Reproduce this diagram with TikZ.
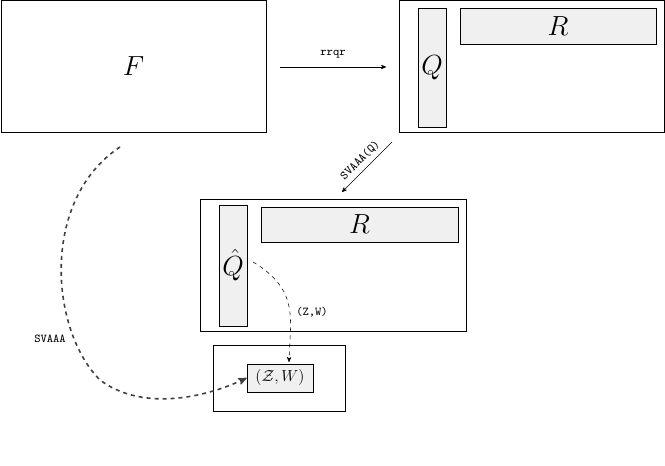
\documentclass[tikz,border=0pt]{standalone}
\usepackage{amsmath,amssymb}
\usetikzlibrary{arrows}
\tikzstyle{big_box} = [rectangle, draw=black, inner sep=0pt]
\tikzstyle{bar_v} = [rectangle, draw=black, fill=black!6, inner sep=0pt]
\tikzstyle{lab_tt} = [font=\ttfamily\small]
\begin{document}
\begin{tikzpicture}[x=0.75pt,y=-0.75pt,>=stealth']
\useasboundingbox (0,0) rectangle (665,466);
\node [big_box, minimum width=265*0.75pt, minimum height=132*0.75pt] (fbox) at (133.5,66) {\huge $F$};
\node [big_box, minimum width=265*0.75pt, minimum height=132*0.75pt] (rbox) at (531.5,66) {};
\node [bar_v, minimum width=28*0.75pt, minimum height=119*0.75pt] (q) at (432,67.5) {\huge $Q$};
\node [bar_v, minimum width=196*0.75pt, minimum height=36*0.75pt] (r1) at (558,26) {\huge $R$};
\node [big_box, minimum width=266*0.75pt, minimum height=132*0.75pt] (mbox) at (333,265) {};
\node [bar_v, minimum width=28*0.75pt, minimum height=121*0.75pt] (qh) at (233,265.5) {\huge $\hat{Q}$};
\node [bar_v, minimum width=197*0.75pt, minimum height=35*0.75pt] (r2) at (359.5,224.5) {\huge $R$};
\node [big_box, minimum width=132*0.75pt, minimum height=66*0.75pt] (sbox) at (279,378) {};
\node [bar_v, minimum width=66*0.75pt, minimum height=28*0.75pt] (zw) at (280,378) {\large $(\mathcal{Z},W)$};
\coordinate (a1) at (280,67);
\coordinate (a2) at (386,67);
\coordinate (b1) at (392,142);
\coordinate (b2) at (342,192);
\coordinate (c1) at (120,147);
\coordinate (d1) at (253,262);
\coordinate (d2) at (289,362);
\draw [->] (a1) -- node [lab_tt, above=3pt] {rrqr} (a2);
\draw [->] (b1) -- node [lab_tt, above, sloped] {SVAAA(Q)} (b2);
\draw [->, dashed] (d1) .. controls (300,290) and (290,320) .. (d2);
\node [lab_tt] (zwlab) at (312,312) {(Z,W)};
\draw [->, dashed, very thick, draw=black!75] (c1) .. controls (40,200) and (50,330) .. (100,380) .. controls (140,410) and (200,400) .. (zw.west);
\node [lab_tt, fill=white, inner sep=1pt] (svlab) at (50,339) {SVAAA};
\end{tikzpicture}
\end{document}
